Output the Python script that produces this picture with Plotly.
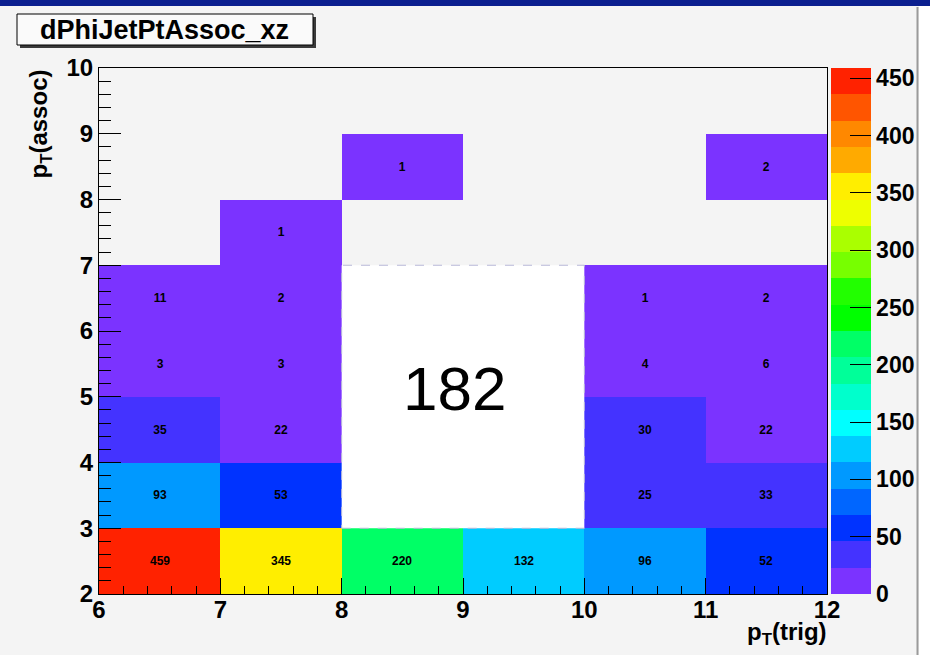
import plotly.graph_objects as go

# ---- data ----
x_edges = [6, 7, 8, 9, 10, 11, 12]
y_edges = [2, 3, 4, 5, 6, 7, 8, 9, 10]
x_centers = [6.5, 7.5, 8.5, 9.5, 10.5, 11.5]
y_centers = [2.5, 3.5, 4.5, 5.5, 6.5, 7.5, 8.5, 9.5]
counts = [
    [459, 345, 220, 132, 96, 52],
    [93, 53, None, None, 25, 33],
    [35, 22, None, None, 30, 22],
    [3, 3, None, None, 4, 6],
    [11, 2, None, None, 1, 2],
    [None, 1, None, None, None, None],
    [None, None, 1, None, None, 2],
    [None, None, None, None, None, None],
]
overlay_value = "182"
title_text = "dPhiJetPtAssoc_xz"
palette = ["#7b33ff", "#4433ff", "#0033ff", "#0066ff", "#0099ff",
           "#00ccff", "#00ffff", "#00ffcc", "#00ff99", "#00ff66",
           "#00ff00", "#22ff00", "#77ff00", "#aaff00", "#eeff00",
           "#ffee00", "#ffaa00", "#ff8800", "#ff5500", "#ff2200"]
z_max = 459
cbar_ticks = [0, 50, 100, 150, 200, 250, 300, 350, 400, 450]

# ---- layout geometry ----
W, H = 930, 655
L, R, T, B = 99, 103, 68, 61
PW, PH = W - L - R, H - T - B


def px(xp):
    return (xp - L) / PW


def py(yp):
    return (H - B - yp) / PH


n = len(palette)
colorscale = []
for i, c in enumerate(palette):
    colorscale.append([i / n, c])
    colorscale.append([(i + 1) / n, c])

text = [[" " if v is None else str(v) for v in row] for row in counts]

tickfont = dict(family="Liberation Sans", size=24, color="black", weight="bold")

fig = go.Figure(go.Heatmap(
    x=x_centers, y=y_centers, z=counts, text=text,
    texttemplate="%{text}",
    textfont=dict(family="Liberation Sans", size=12, color="black", weight="bold"),
    colorscale=colorscale, zmin=0, zmax=z_max,
    hoverongaps=False,
    colorbar=dict(
        x=px(831), xanchor="left", xpad=0, ypad=0,
        y=0.5, yanchor="middle", len=1.0, lenmode="fraction",
        thickness=40, thicknessmode="pixels",
        outlinewidth=0,
        tickvals=cbar_ticks, ticks="inside", ticklen=21,
        tickcolor="black", tickwidth=1,
        tickfont=dict(family="Liberation Sans", size=23, color="black", weight="bold"),
    ),
))

axis_common = dict(
    showgrid=False, zeroline=False, showline=True, mirror=True,
    linecolor="black", linewidth=1, ticks="inside", tickcolor="black",
    tickwidth=1, tickfont=tickfont, dtick=1,
)
fig.update_xaxes(range=[x_edges[0], x_edges[-1]], ticklen=16, tick0=6,
                 ticklabelstandoff=-6,
                 minor=dict(ticks="inside", ticklen=8, dtick=0.2, tick0=6,
                            tickcolor="black", showgrid=False),
                 **axis_common)
fig.update_yaxes(range=[y_edges[0], y_edges[-1]], ticklen=22, tick0=2,
                 minor=dict(ticks="inside", ticklen=12, dtick=0.2, tick0=2,
                            tickcolor="black", showgrid=False),
                 **axis_common)

shapes = [
    # top banner
    dict(type="rect", xref="paper", yref="paper", x0=px(0), x1=px(W),
         y0=py(6), y1=py(0), fillcolor="#0b1f8f", line=dict(width=0), layer="below"),
    # right border area
    dict(type="rect", xref="paper", yref="paper", x0=px(919), x1=px(W),
         y0=py(H), y1=py(6), fillcolor="white", line=dict(width=0), layer="below"),
    dict(type="line", xref="paper", yref="paper", x0=px(917.5), x1=px(917.5),
         y0=py(H), y1=py(7), line=dict(color="#9a9a9a", width=2), layer="below"),
    # title box shadow + box
    dict(type="rect", xref="paper", yref="paper", x0=px(20), x1=px(316),
         y0=py(48), y1=py(17), fillcolor="#3a3a3a", line=dict(width=0)),
    dict(type="rect", xref="paper", yref="paper", x0=px(17), x1=px(313),
         y0=py(45), y1=py(14), fillcolor="#fafafa", line=dict(color="black", width=1)),
    # overlay white box
    dict(type="rect", xref="x", yref="y", x0=8, x1=10, y0=3, y1=7,
         fillcolor="white", line=dict(color="#b8b8d8", width=1, dash="dash")),
]

annotations = [
    dict(text="<b>" + title_text + "</b>", xref="paper", yref="paper",
         x=px(164), y=py(30), xanchor="center", yanchor="middle", showarrow=False,
         font=dict(family="Liberation Sans", size=27, color="black")),
    dict(text=overlay_value, xref="x", yref="y", x=8.93, y=5.12,
         xanchor="center", yanchor="middle", showarrow=False,
         font=dict(family="Liberation Sans", size=62, color="black")),
    dict(text="<b>p<sub>T</sub>(assoc)</b>", xref="paper", yref="paper",
         x=px(40), y=py(68), xanchor="center", yanchor="top", textangle=-90,
         showarrow=False, font=dict(family="Liberation Sans", size=24, color="black")),
    dict(text="<b>p<sub>T</sub>(trig)</b>", xref="paper", yref="paper",
         x=px(829), y=py(633), xanchor="right", yanchor="middle",
         showarrow=False, font=dict(family="Liberation Sans", size=24, color="black")),
]

fig.update_layout(
    width=W, height=H,
    margin=dict(l=L, r=R, t=T, b=B, autoexpand=False),
    paper_bgcolor="#f4f4f4", plot_bgcolor="#f4f4f4",
    shapes=shapes, annotations=annotations,
    showlegend=False,
)

fig.write_html("out.html")
